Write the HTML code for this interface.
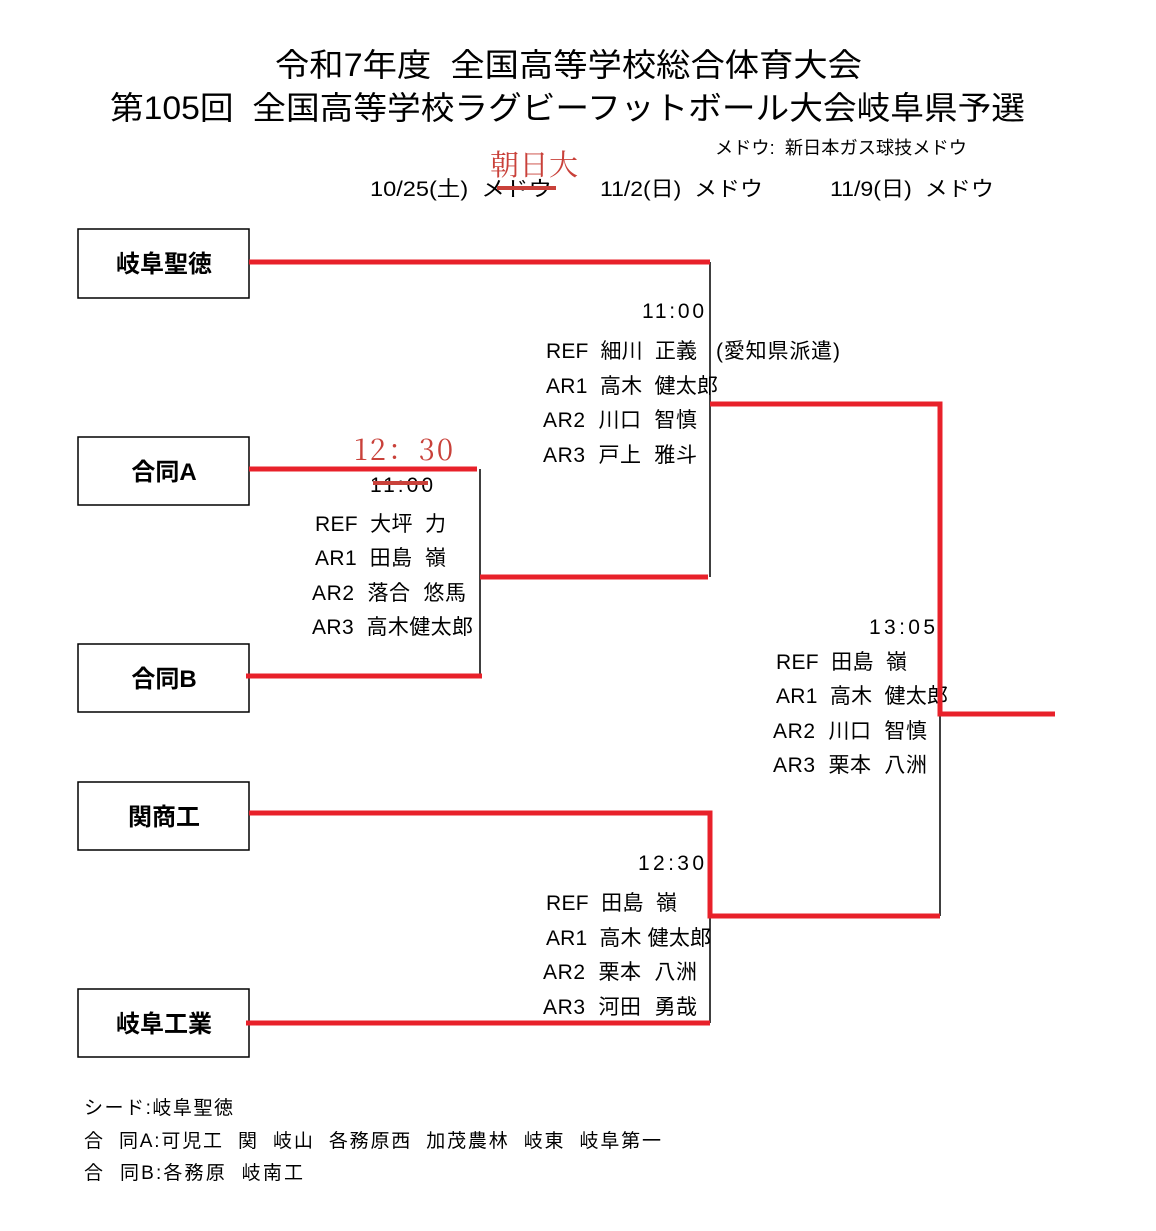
<!DOCTYPE html>
<html><head><meta charset="utf-8"><style>
body{margin:0;background:#fff;}
svg text{font-family:"Liberation Sans","Noto Sans CJK JP",sans-serif;fill:#000;white-space:pre;}
</style></head><body>
<svg width="1156" height="1226" viewBox="0 0 1156 1226" xmlns="http://www.w3.org/2000/svg" xml:space="preserve">
<text x="275" y="76" font-size="32" textLength="587" lengthAdjust="spacingAndGlyphs">令和7年度  全国高等学校総合体育大会</text>
<text x="110" y="119" font-size="32" textLength="915" lengthAdjust="spacingAndGlyphs">第105回  全国高等学校ラグビーフットボール大会岐阜県予選</text>
<text x="715" y="154" font-size="18" textLength="252" lengthAdjust="spacingAndGlyphs">メドウ:  新日本ガス球技メドウ</text>
<text x="370" y="196" font-size="21" textLength="182" lengthAdjust="spacingAndGlyphs">10/25(土)  メドウ</text>
<text x="600" y="196" font-size="21" textLength="163" lengthAdjust="spacingAndGlyphs">11/2(日)  メドウ</text>
<text x="830" y="196" font-size="21" textLength="164" lengthAdjust="spacingAndGlyphs">11/9(日)  メドウ</text>
<text x="490" y="175" font-size="29" textLength="88" style="fill:#c9413a;font-family:'Noto Serif CJK SC',serif">朝日大</text>
<line x1="497" y1="188" x2="556" y2="188" stroke="#c9413a" stroke-width="4"/>

<g fill="none" stroke="#000" stroke-width="1.5">
<rect x="78" y="229" width="171" height="69"/>
<rect x="78" y="437" width="171" height="68"/>
<rect x="78" y="644" width="171" height="68"/>
<rect x="78" y="782" width="171" height="68"/>
<rect x="78" y="989" width="171" height="68"/>
<line x1="710" y1="262" x2="710" y2="577"/>
<line x1="480" y1="469" x2="480" y2="676"/>
<line x1="710" y1="813" x2="710" y2="1023"/>
<line x1="940" y1="404" x2="940" y2="916"/>
</g>
<g font-size="24" font-weight="bold" text-anchor="middle">
<text x="164" y="272">岐阜聖徳</text>
<text x="164" y="480">合同A</text>
<text x="164" y="687">合同B</text>
<text x="164" y="825">関商工</text>
<text x="164" y="1032">岐阜工業</text>
</g>
<g font-size="21" lengthAdjust="spacingAndGlyphs">
<text x="642" y="318" textLength="62">11:00</text>
<text x="546" y="358" textLength="151">REF  細川  正義</text>
<text x="716" y="358" textLength="124">(愛知県派遣)</text>
<text x="546" y="393" textLength="172">AR1  高木  健太郎</text>
<text x="543" y="427" textLength="154">AR2  川口  智慎</text>
<text x="543" y="462" textLength="154">AR3  戸上  雅斗</text>
<text x="370" y="492" textLength="63">11:00</text>
<text x="315" y="531" textLength="131">REF  大坪  力</text>
<text x="315" y="565" textLength="131">AR1  田島  嶺</text>
<text x="312" y="600" textLength="154">AR2  落合  悠馬</text>
<text x="312" y="634" textLength="161">AR3  高木健太郎</text>
<text x="869" y="634" textLength="66">13:05</text>
<text x="776" y="669" textLength="131">REF  田島  嶺</text>
<text x="776" y="703" textLength="172">AR1  高木  健太郎</text>
<text x="773" y="738" textLength="154">AR2  川口  智慎</text>
<text x="773" y="772" textLength="154">AR3  栗本  八洲</text>
<text x="638" y="870" textLength="66">12:30</text>
<text x="546" y="910" textLength="131">REF  田島  嶺</text>
<text x="546" y="945" textLength="165">AR1  高木 健太郎</text>
<text x="543" y="979" textLength="154">AR2  栗本  八洲</text>
<text x="543" y="1014" textLength="154">AR3  河田  勇哉</text>
</g>
<text x="354" y="460" font-size="29" textLength="99" style="fill:#c9413a;font-family:'Noto Serif CJK SC',serif">12：30</text>
<line x1="373" y1="483" x2="428" y2="483" stroke="#c9413a" stroke-width="4"/>
<g font-size="19" lengthAdjust="spacingAndGlyphs">
<text x="84" y="1114" textLength="149">シード:岐阜聖徳</text>
<text x="84" y="1147" textLength="577">合  同A:可児工  関  岐山  各務原西  加茂農林  岐東  岐阜第一</text>
<text x="84" y="1179" textLength="219">合  同B:各務原  岐南工</text>
</g>
<g fill="none" stroke="#e8212a" stroke-width="5" stroke-linejoin="miter">
<line x1="249" y1="262" x2="710" y2="262"/>
<line x1="249" y1="469" x2="477" y2="469"/>
<line x1="246" y1="676" x2="482" y2="676"/>
<line x1="480" y1="577" x2="708" y2="577"/>
<polyline points="710,404 940,404 940,714 1055,714"/>
<polyline points="249,813 710,813 710,916 940,916"/>
<line x1="246" y1="1023" x2="710" y2="1023"/>
</g>
</svg>
</body></html>
